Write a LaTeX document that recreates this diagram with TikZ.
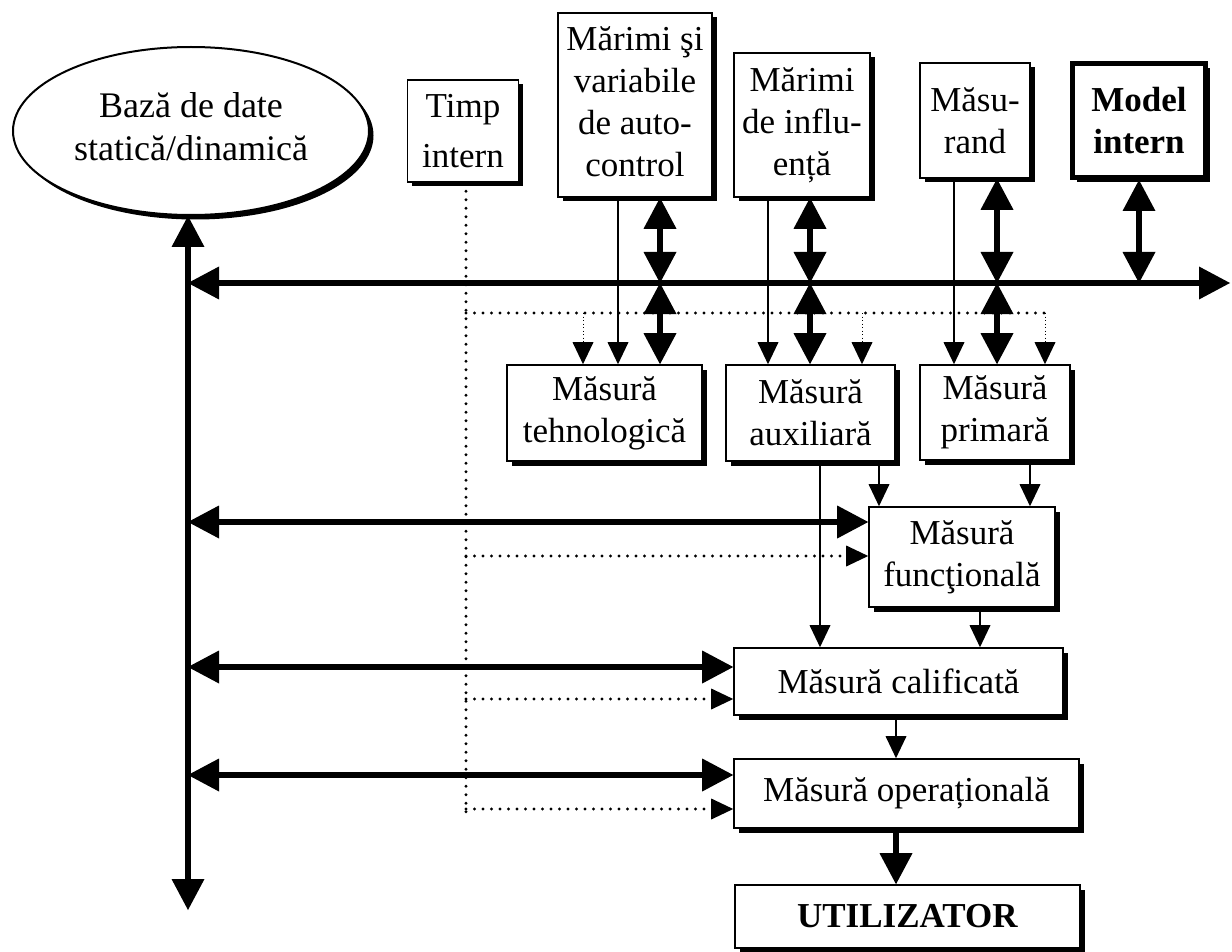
\documentclass[tikz,border=0pt]{standalone}
\usepackage{fontspec}
\setmainfont{Liberation Serif}
\usetikzlibrary{arrows.meta,shapes.geometric,shadows}

\tikzset{
  bigtip/.tip={Triangle[width=33pt,length=31pt,line width=0pt]},
  smalltip/.tip={Triangle[width=21pt,length=22pt,line width=0pt]},
  offset shade/.style={general shadow={fill=black, shadow xshift=4.5pt, shadow yshift=-4.5pt}},
  block/.style={draw, line width=1.6pt, fill=white, align=center, inner sep=0pt, offset shade},
  busline/.style={line width=5.5pt},
  linkline/.style={line width=1.7pt},
  clockline/.style={line width=3.2pt, line cap=round, dash pattern=on 0pt off 8.5pt},
  faintline/.style={line width=1pt, dash pattern=on 1pt off 2.5pt},
}

\begin{document}
\begin{tikzpicture}[x=1pt,y=-1pt,font=\fontsize{35}{42}\selectfont]
\useasboundingbox (0,0) rectangle (1232,952);

% ---------- data base and source blocks ----------
\node[ellipse, draw, line width=2pt, fill=white, inner sep=0pt,
      minimum width=356pt, minimum height=168pt, offset shade,
      label={[align=center, yshift=4pt, font=\fontsize{36}{43}\selectfont]center:Bază de date\\statică/dinamică}] (base) at (191,131) {};
\node[block, minimum width=111pt, minimum height=102pt, font=\fontsize{35}{50}\selectfont]
      (timp) at (463,131) {Timp\\intern};
\node[block, minimum width=154pt, minimum height=184pt] (marimi) at (635,105)
      {\raisebox{4pt}{\begin{tabular}{@{}c@{}}Mărimi şi\\variabile\\de auto-\\control\end{tabular}}};
\node[block, minimum width=136pt, minimum height=144pt] (influ) at (802,125)
      {Mărimi\\de influ-\\ență};
\node[block, minimum width=110pt, minimum height=115pt] (masurand) at (975,120.5)
      {Măsu-\\rand};
\node[block, line width=5pt, minimum width=133pt, minimum height=114pt] (model) at (1139,120.5)
      {\textbf{Model}\\\textbf{intern}};

% ---------- measurement stages ----------
\node[block, minimum width=195pt, minimum height=96pt] (tehno) at (604.5,413)
      {Măsură\\tehnologică};
\node[block, minimum width=169pt, minimum height=96pt] (aux) at (810.5,413)
      {Măsură\\auxiliară};
\node[block, minimum width=150pt, minimum height=95pt] (prim) at (995,412.5)
      {Măsură\\primară};
\node[block, minimum width=186pt, minimum height=100pt] (func) at (962,557)
      {Măsură\\funcţională};
\node[block, minimum width=329pt, minimum height=67pt] (calif) at (898.5,681.5)
      {Măsură calificată};
\node[block, minimum width=345pt, minimum height=69pt] (oper) at (906.5,793.5)
      {Măsură operațională};
\node[block, minimum width=345pt, minimum height=63pt] (util) at (907.5,916.5)
      {\textbf{UTILIZATOR}};

% ---------- reference points ----------
\coordinate (busL) at (188,283);
\coordinate (busR) at (1230,283);
\coordinate (vbusEnd) at (188,910);
\coordinate (laneA) at (660,283);
\coordinate (laneB) at (810,283);
\coordinate (laneC) at (997,283);
\coordinate (laneD) at (1139,283);
\coordinate (feedA) at (618,283);
\coordinate (feedB) at (768,283);
\coordinate (feedC) at (954,283);
\coordinate (clk) at (466,313);
\coordinate (clkA) at (583,313);
\coordinate (clkB) at (862,313);
\coordinate (clkC) at (1045,313);
\coordinate (clkEnd) at (466,812);
\coordinate (tapQ) at (820,0);
\coordinate (tapF1) at (879,0);
\coordinate (tapF2) at (1030,0);
\coordinate (tapC) at (980,0);
\coordinate (tapO) at (896,0);
\coordinate (funcBus) at ([yshift=35pt]func.west);
\coordinate (funcClk) at ([yshift=1pt]func.west);
\coordinate (califBus) at ([yshift=14.5pt]calif.west);
\coordinate (califClk) at ([yshift=-17.5pt]calif.west);
\coordinate (operBus) at ([yshift=18.5pt]oper.west);
\coordinate (operClk) at ([yshift=-15.5pt]oper.west);

% ---------- internal time (dotted) ----------
\draw[clockline] (timp.south -| clk) -- (clkEnd);
\draw[clockline] (clk) -- (clkC);
\draw[faintline,-smalltip] (clkA) -- (clkA |- tehno.north);
\draw[faintline,-smalltip] (clkB) -- (clkB |- aux.north);
\draw[faintline,-smalltip] (clkC) -- (clkC |- prim.north);
\draw[clockline,-smalltip] (funcClk -| clk) -- (funcClk);
\draw[clockline,-smalltip] (califClk -| clk) -- (califClk);
\draw[clockline,-smalltip] (operClk -| clk) -- (operClk);

% ---------- data buses ----------
\draw[busline,bigtip-bigtip] (base.south -| busL) -- (vbusEnd);
\draw[busline,bigtip-bigtip] (busL) -- (busR);
\draw[busline,bigtip-bigtip] (funcBus -| busL) -- (funcBus);
\draw[busline,bigtip-bigtip] (califBus -| busL) -- (califBus);
\draw[busline,bigtip-bigtip] (operBus -| busL) -- (operBus);

% ---------- exchanges with the main bus ----------
\draw[busline,bigtip-bigtip] (marimi.south -| laneA) -- (laneA);
\draw[busline,bigtip-bigtip] (laneA) -- (laneA |- tehno.north);
\draw[busline,bigtip-bigtip] (influ.south -| laneB) -- (laneB);
\draw[busline,bigtip-bigtip] (laneB) -- (laneB |- aux.north);
\draw[busline,bigtip-bigtip] (masurand.south -| laneC) -- (laneC);
\draw[busline,bigtip-bigtip] (laneC) -- (laneC |- prim.north);
\draw[busline,bigtip-bigtip] (model.south -| laneD) -- (laneD);

% ---------- direct feeds ----------
\draw[linkline,-smalltip] (marimi.south -| feedA) -- (feedA |- tehno.north);
\draw[linkline,-smalltip] (influ.south -| feedB) -- (feedB |- aux.north);
\draw[linkline,-smalltip] (masurand.south -| feedC) -- (feedC |- prim.north);
\draw[linkline,-smalltip] (aux.south -| tapQ) -- (calif.north -| tapQ);
\draw[linkline,-smalltip] (aux.south -| tapF1) -- (func.north -| tapF1);
\draw[linkline,-smalltip] (prim.south -| tapF2) -- (func.north -| tapF2);
\draw[linkline,-smalltip] (func.south -| tapC) -- (calif.north -| tapC);
\draw[linkline,-smalltip] (calif.south -| tapO) -- (oper.north -| tapO);
\draw[busline,-bigtip] (oper.south -| tapO) -- (util.north -| tapO);

\end{tikzpicture}
\end{document}
